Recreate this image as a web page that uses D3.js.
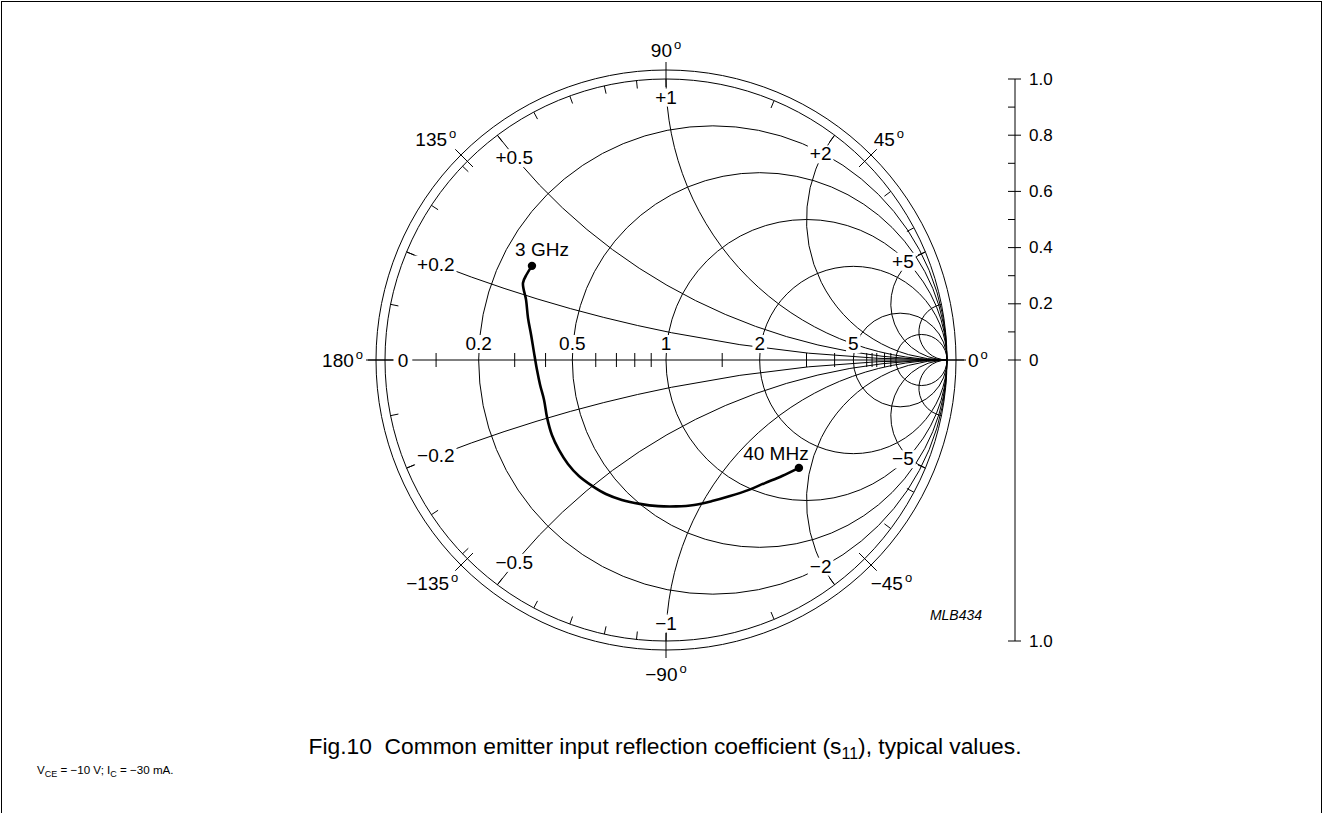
<!DOCTYPE html>
<html><head><meta charset="utf-8">
<script src="https://cdn.jsdelivr.net/npm/d3@7"></script>
<style>
body{margin:0;background:#fff}
svg{display:block}
text{font-family:"Liberation Sans",Arial,Helvetica,sans-serif;fill:#000;white-space:pre}
</style>
</head><body>
<svg id="chart" width="1324" height="813"></svg>
<script>
// ---------- data ----------
const resistanceCircles = [0.2, 0.5, 1, 2, 5, 10];
const resistanceLabelValues = [0, 0.2, 0.5, 1, 2, 5];
const resistanceLabelTexts = ["0", "0.2", "0.5", "1", "2", "5"];
const resistanceTicks = [0.1, 0.3, 0.4, 0.6, 0.7, 0.8, 0.9, 1.5, 3, 4, 6, 6.5, 7, 8, 9];
const reactanceArcs = [0.2, 0.5, 1, 2, 5, 10, -0.2, -0.5, -1, -2, -5, -10];
const reactanceLabelValues = [0.2, 0.5, 1, 2, 5, -0.2, -0.5, -1, -2, -5];
const reactanceLabelTexts = ["+0.2", "+0.5", "+1", "+2", "+5", "\u22120.2", "\u22120.5", "\u22121", "\u22122", "\u22125"];
const reactanceTicks = [0.1, 0.2, 0.3, 0.4, 0.5, 0.6, 0.7, 0.8, 0.9, 1.5, 2, 3, 4, 5,
                        -0.1, -0.2, -0.3, -0.4, -0.5, -0.6, -0.7, -0.8, -0.9, -1.5, -2, -3, -4, -5];
const angleTicks = [0, 45, 90, 135, 180, -45, -90, -135];
const angleLabelTexts = ["0", "45", "90", "135", "180", "\u221245", "\u221290", "\u2212135"];
const magTicks = [0, 0.1, 0.2, 0.3, 0.4, 0.5, 0.6, 0.7, 0.8, 0.9, 1.0];
const magLabelValues = [0, 0.2, 0.4, 0.6, 0.8, 1.0];
const magLabelTexts = ["0", "0.2", "0.4", "0.6", "0.8", "1.0"];
// s11 (real, imaginary), from 40 MHz to 3 GHz
const s11Re = [0.473, 0.413, 0.352, 0.292, 0.228, 0.164, 0.100, 0.036, -0.028, -0.093, -0.157, -0.214, -0.263, -0.310, -0.349, -0.381, -0.406, -0.423, -0.434, -0.448, -0.459, -0.470, -0.480, -0.491, -0.498, -0.509, -0.495, -0.477];
const s11Im = [-0.384, -0.413, -0.438, -0.463, -0.484, -0.502, -0.516, -0.521, -0.520, -0.512, -0.498, -0.477, -0.448, -0.413, -0.370, -0.320, -0.267, -0.206, -0.142, -0.089, -0.036, 0.028, 0.089, 0.149, 0.214, 0.274, 0.306, 0.335];
const freqLabels = ["40 MHz", "3 GHz"];

// ---------- layout ----------
const cx = 666, cy = 360, R = 281, Rout = 290;
const svg = d3.select("#chart");
const gx = d3.scaleLinear().domain([-1, 1]).range([cx - R, cx + R]);
const gy = d3.scaleLinear().domain([-1, 1]).range([cy + R, cy - R]);
const len = v => gx(v) - gx(0);
const FS = 19;

// frame
svg.append("rect").attr("x", 1.5).attr("y", 1.5).attr("width", 1320).attr("height", 830)
  .attr("fill", "none").attr("stroke", "#000").attr("stroke-width", 1);

const grid = svg.append("g").attr("fill", "none").attr("stroke", "#000").attr("stroke-width", 1);

// rings
grid.append("circle").attr("cx", gx(0)).attr("cy", gy(0)).attr("r", len(1));
grid.append("circle").attr("cx", gx(0)).attr("cy", gy(0)).attr("r", len(1) * Rout / R);

// resistance circles
grid.selectAll("circle.res").data(resistanceCircles).join("circle").attr("class", "res")
  .attr("cx", r => gx(r / (1 + r))).attr("cy", gy(0)).attr("r", r => len(1 / (1 + r)));

// reactance arcs
function edgePoint(x) {
  const th = Math.PI - 2 * Math.atan(x);
  return [Math.cos(th), Math.sin(th)];
}
grid.selectAll("path.reac").data(reactanceArcs).join("path").attr("class", "reac")
  .attr("d", x => {
    const [ex, ey] = edgePoint(x);
    const rr = len(1 / Math.abs(x));
    return `M${gx(ex)},${gy(ey)} A${rr},${rr} 0 0 ${x > 0 ? 0 : 1} ${gx(1)},${gy(0)}`;
  });

// horizontal axis
const tickOut = 300 / R, tickIn = 273 / R;
grid.append("line").attr("x1", gx(-tickOut)).attr("x2", gx(tickOut)).attr("y1", gy(0)).attr("y2", gy(0));

// resistance ticks on axis
grid.selectAll("line.rt").data(resistanceTicks).join("line").attr("class", "rt")
  .attr("x1", r => gx((r - 1) / (r + 1))).attr("x2", r => gx((r - 1) / (r + 1)))
  .attr("y1", gy(0) - 7).attr("y2", gy(0) + 7);

// reactance ticks on inner ring
grid.selectAll("line.xt").data(reactanceTicks).join("line").attr("class", "xt")
  .attr("x1", x => gx(edgePoint(x)[0])).attr("y1", x => gy(edgePoint(x)[1]))
  .attr("x2", x => gx(edgePoint(x)[0] * tickIn)).attr("y2", x => gy(edgePoint(x)[1] * tickIn));

// angle ticks crossing the band
grid.selectAll("line.at").data(angleTicks).join("line").attr("class", "at")
  .attr("x1", a => gx(Math.cos(a * Math.PI / 180) * tickIn))
  .attr("y1", a => gy(Math.sin(a * Math.PI / 180) * tickIn))
  .attr("x2", a => gx(Math.cos(a * Math.PI / 180) * 298 / R))
  .attr("y2", a => gy(Math.sin(a * Math.PI / 180) * 298 / R));

// labels with white backing
const labels = svg.append("g");
function masked(t, pad) {
  const bb = t.node().getBBox();
  labels.insert("rect", () => t.node())
    .attr("x", bb.x - pad).attr("y", bb.y + 2).attr("width", bb.width + 2 * pad).attr("height", bb.height - 3)
    .attr("fill", "#fff");
}
resistanceLabelValues.forEach((r, i) => {
  const x = gx((r - 1) / (r + 1));
  const t = labels.append("text").attr("font-size", FS).attr("text-anchor", "middle")
    .attr("x", r === 0 ? x + 18 : x)
    .attr("y", r === 0 ? gy(0) : gy(0) - 10)
    .attr("dominant-baseline", r === 0 ? "central" : "alphabetic")
    .text(resistanceLabelTexts[i]);
  masked(t, r === 0 ? 4 : 2);
});
reactanceLabelValues.forEach((x, i) => {
  const [ex, ey] = edgePoint(x);
  const t = labels.append("text").attr("font-size", FS).attr("text-anchor", "middle")
    .attr("dominant-baseline", "central").text(reactanceLabelTexts[i]);
  const bb = t.node().getBBox();
  const proj = Math.abs(bb.width / 2 * ex) + Math.abs(6 * ey);
  const d = (12 + proj) / R;
  t.attr("x", gx(ex * (1 - d))).attr("y", gy(ey * (1 - d)));
  masked(t, 2);
});

// angle labels
function degLabel(txt, x, y, anchor, base) {
  const t = svg.append("text").attr("font-size", FS).attr("x", x).attr("y", y)
    .attr("text-anchor", anchor);
  t.append("tspan").text(txt);
  t.append("tspan").attr("font-size", 13).attr("dy", -8).attr("dx", 2).text("o");
  if (base) t.attr("dominant-baseline", base);
  return t;
}
angleTicks.forEach((a, i) => {
  const c = Math.cos(a * Math.PI / 180), s = Math.sin(a * Math.PI / 180);
  const ex = gx(c * 298 / R), ey = gy(s * 298 / R);
  const txt = angleLabelTexts[i];
  if (a === 90) degLabel(txt, ex, ey - 5, "middle");
  else if (a === -90) degLabel(txt, ex, ey + 23, "middle");
  else if (a === 0) degLabel(txt, gx(tickOut) + 2, gy(0) + 7, "start");
  else if (a === 180) degLabel(txt, gx(-tickOut) - 3, gy(0) + 7, "end");
  else if (a === 45) degLabel(txt, ex - 3, ey - 3, "start");
  else if (a === 135) degLabel(txt, ex + 1, ey - 3, "end");
  else if (a === -45) degLabel(txt, ex - 6, ey + 19, "start");
  else if (a === -135) degLabel(txt, ex + 3, ey + 19, "end");
});

// s11 curve
const idx = d3.range(s11Re.length);
svg.append("path").datum(idx)
  .attr("d", d3.line().x(i => gx(s11Re[i])).y(i => gy(s11Im[i])).curve(d3.curveCatmullRom))
  .attr("fill", "none").attr("stroke", "#000").attr("stroke-width", 2.6).attr("stroke-linejoin", "round");
const ends = [0, s11Re.length - 1];
svg.selectAll("circle.end").data(ends).join("circle").attr("class", "end")
  .attr("cx", i => gx(s11Re[i])).attr("cy", i => gy(s11Im[i])).attr("r", 4.2).attr("fill", "#000");
ends.forEach((i, k) => {
  svg.append("text").attr("font-size", FS).attr("text-anchor", "middle")
    .attr("x", gx(s11Re[i]) + (k === 0 ? -23 : 10)).attr("y", gy(s11Im[i]) - (k === 0 ? 8 : 10))
    .text(freqLabels[k]);
});

// magnitude scale on the right
const sx = 1015;
const my = d3.scaleLinear().domain([0, 1]).range([cy, cy - R]);
const scale = svg.append("g").attr("stroke", "#000").attr("stroke-width", 1);
scale.append("line").attr("x1", sx).attr("x2", sx).attr("y1", my(1)).attr("y2", cy + R);
scale.selectAll("line.mt").data(magTicks).join("line").attr("class", "mt")
  .attr("x1", v => sx - 7).attr("x2", v => (Math.round(v * 10) % 2 === 0) ? sx + 6 : sx)
  .attr("y1", v => my(v)).attr("y2", v => my(v));
scale.append("line").attr("x1", sx - 7).attr("x2", sx + 6).attr("y1", cy + R).attr("y2", cy + R);
magLabelValues.forEach((v, i) => {
  svg.append("text").attr("font-size", 17).attr("x", sx + 14).attr("y", my(v))
    .attr("dominant-baseline", "central").text(magLabelTexts[i]);
});
svg.append("text").attr("font-size", 17).attr("x", sx + 14).attr("y", cy + R)
  .attr("dominant-baseline", "central").text(magLabelTexts[magLabelTexts.length - 1]);

// code, note, caption
svg.append("text").attr("font-size", 14).attr("font-style", "italic").attr("text-anchor", "middle")
  .attr("x", 956).attr("y", 620).text("MLB434");

const note = svg.append("text").attr("font-size", 11.6).attr("x", 37).attr("y", 774);
note.append("tspan").text("V");
note.append("tspan").attr("font-size", 9).attr("dy", 3).text("CE");
note.append("tspan").attr("dy", -3).text(" = \u221210 V; I");
note.append("tspan").attr("font-size", 9).attr("dy", 3).text("C");
note.append("tspan").attr("dy", -3).text(" = \u221230 mA.");

const cap = svg.append("text").attr("font-size", 22.8).attr("x", 665).attr("y", 754).attr("text-anchor", "middle");
cap.append("tspan").text("Fig.10  Common emitter input reflection coefficient (s");
cap.append("tspan").attr("font-size", 16).attr("dy", 5).text("11");
cap.append("tspan").attr("dy", -5).text("), typical values.");
</script>
</body></html>
